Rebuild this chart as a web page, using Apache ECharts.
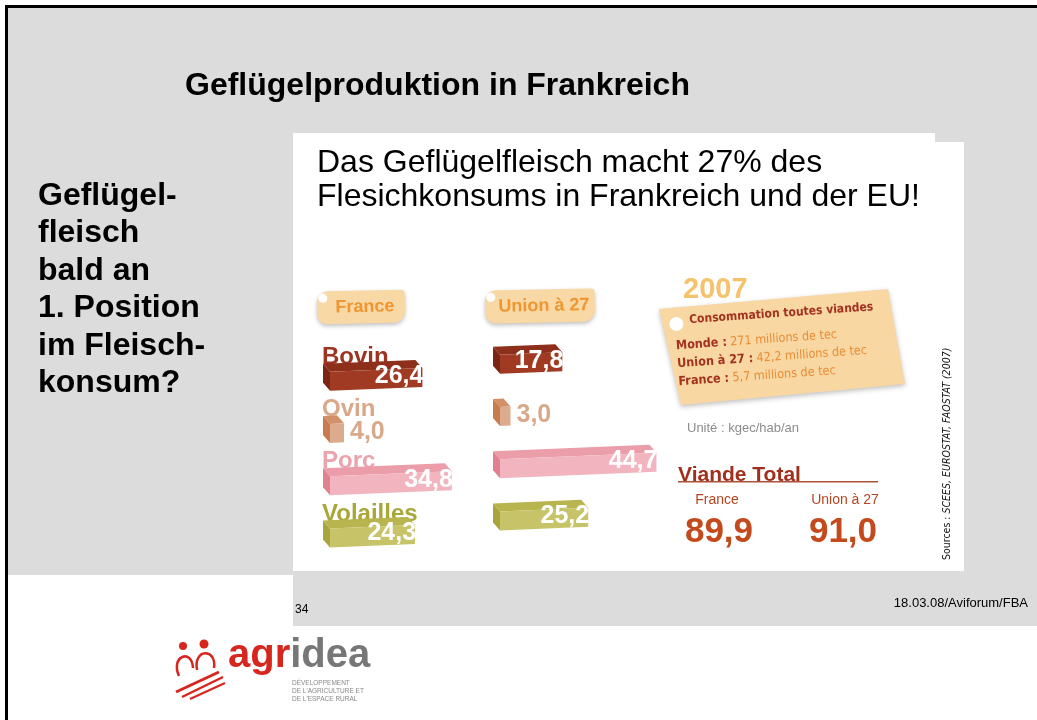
<!DOCTYPE html>
<html>
<head>
<meta charset="utf-8">
<script src="https://cdn.jsdelivr.net/npm/echarts@6/dist/echarts.min.js"></script>
<style>
  html, body { margin: 0; padding: 0; background: #fff; }
  #chart { width: 1037px; height: 720px; }
</style>
</head>
<body>
<div id="chart"></div>
<script>
// data
const categories = ["Bovin", "Ovin", "Porc", "Volailles"];
const franceValues = [26.4, 4.0, 34.8, 24.3];
const euValues = [17.8, 3.0, 44.7, 25.2];
const groupNames = ["France", "Union à 27"];
const totalValues = [89.9, 91.0];
const worldLabels = ["Monde", "Union à 27", "France"];
const worldValues = ["271", "42,2", "5,7"];
const leftLines = ["Geflügel-", "fleisch", "bald an", "1. Position", "im Fleisch-", "konsum?"];

const ARIAL = "'Liberation Sans', Arial, sans-serif";
const NARROW = "'DejaVu Sans Condensed', 'Liberation Sans', sans-serif";

const boxColors = [
  { front: "#a13a22", side: "#7b2615", top: "#8e2f1b", text: "#9c3421" },
  { front: "#dcaa8c", side: "#c67c4f", top: "#d3916a", text: "#d9a88b" },
  { front: "#f2b5bf", side: "#e2808f", top: "#eb9daa", text: "#eba3ae" },
  { front: "#c6c368", side: "#a9a53b", top: "#b9b54e", text: "#a9a73a" },
];

const fmt = (v) => v.toFixed(1).replace(".", ",");

const makeRender = (showNames) => (params, api) => {
  const i = api.value(1);
  const v = api.value(0);
  const start = api.coord([0, i]);
  const end = api.coord([v, i]);
  const h = 19, dx = -7, dy = -8, tilt = 0.04;
  const x0 = start[0], x1 = end[0], y = start[1];
  const rise = (x1 - x0) * tilt;
  const tl = [x0, y - h / 2], tr = [x1, y - h / 2 - rise];
  const br = [x1, y + h / 2 - rise], bl = [x0, y + h / 2];
  const off = (p) => [p[0] + dx, p[1] + dy];
  const c = boxColors[i];
  const children = [];
  if (showNames) {
    children.push({
      type: "text", x: x0 - 8, y: y - 24,
      style: { text: categories[i], fill: c.text, font: `bold 24px ${ARIAL}`,
        align: "left", textAlign: "left", verticalAlign: "middle", textVerticalAlign: "middle" },
    });
  }
  children.push(
    { type: "polygon", shape: { points: [tl, tr, off(tr), off(tl)] }, style: { fill: c.top } },
    { type: "polygon", shape: { points: [tl, bl, off(bl), off(tl)] }, style: { fill: c.side } },
    { type: "polygon", shape: { points: [tl, tr, br, bl] }, style: { fill: c.front } }
  );
  const inside = x1 - x0 > 40;
  children.push({
    type: "text", x: inside ? x1 + 1 : x1 + 6, y: y - rise - 1,
    style: { text: fmt(v), fill: inside ? "#fff" : c.text, font: `bold 25px ${ARIAL}`,
      align: inside ? "right" : "left", textAlign: inside ? "right" : "left",
      verticalAlign: "middle", textVerticalAlign: "middle" },
  });
  return { type: "group", children };
};

const txt = (x, y, text, font, fill, align, extra) => Object.assign({
  type: "text", x, y, z: 3,
  style: { text, font, fill, align: align || "left", textAlign: align || "left",
    verticalAlign: "middle", textVerticalAlign: "middle" },
}, extra || {});

const tag = (cx, cy, w, h, label) => ({
  type: "group", x: cx, y: cy, rotation: 0.02, z: 3,
  children: [
    { type: "rect", z: 3, shape: { x: -w / 2, y: -h / 2, width: w, height: h, r: [12, 4, 12, 10] },
      style: { fill: "#f8d8a4", shadowBlur: 4, shadowColor: "rgba(0,0,0,0.25)", shadowOffsetY: 2 } },
    { type: "circle", z: 4, shape: { cx: -w / 2 + 6, cy: -h / 2 + 7, r: 4.5 }, style: { fill: "#fff" } },
    { type: "text", z: 4, x: 4, y: 0, style: { text: label, font: `bold 18px ${ARIAL}`, fill: "#ef9632",
      align: "center", textAlign: "center", verticalAlign: "middle", textVerticalAlign: "middle" } },
  ],
});

const red = "#d7261e";
const graphics = [
  // slide background and frame
  { type: "rect", z: 0, shape: { x: 7, y: 7, width: 1030, height: 568 }, style: { fill: "#dcdcdc" } },
  { type: "rect", z: 0, shape: { x: 293, y: 571, width: 744, height: 55 }, style: { fill: "#dcdcdc" } },
  { type: "rect", z: 0, shape: { x: 5, y: 5, width: 3, height: 715 }, style: { fill: "#000" } },
  { type: "rect", z: 0, shape: { x: 5, y: 5, width: 1032, height: 3 }, style: { fill: "#000" } },
  { type: "rect", z: 1, shape: { x: 293, y: 142, width: 671, height: 429 }, style: { fill: "#fff" } },
  { type: "rect", z: 1, shape: { x: 293, y: 133, width: 642, height: 10 }, style: { fill: "#fff" } },

  txt(185, 86, "Geflügelproduktion in Frankreich", `bold 32px ${ARIAL}`, "#000"),
  ...leftLines.map((l, i) => txt(38, 196 + i * 37.5, l, `bold 32px ${ARIAL}`, "#000")),
  txt(317, 163, "Das Geflügelfleisch macht 27% des", `32px ${ARIAL}`, "#000"),
  txt(317, 197, "Flesichkonsums in Frankreich und der EU!", `32px ${ARIAL}`, "#000"),
  txt(295, 610, "34", `12px ${ARIAL}`, "#000"),
  txt(1028, 603, "18.03.08/Aviforum/FBA", `13px ${ARIAL}`, "#000", "right"),

  tag(361, 307, 88, 33, groupNames[0]),
  tag(540, 306, 110, 33, groupNames[1]),

  // 2007 card
  txt(683, 290, "2007", `bold 29px ${ARIAL}`, "#f6c26b"),
  { type: "polygon", z: 3, shape: { points: [[659, 309], [888, 289], [905, 384], [681, 405]] },
    style: { fill: "#f8d7a3", shadowBlur: 5, shadowColor: "rgba(0,0,0,0.25)", shadowOffsetY: 2 } },
  {
    type: "group", x: 676, y: 346, rotation: 0.07, z: 4,
    children: [
      { type: "circle", z: 4, shape: { cx: 2, cy: -22, r: 7 }, style: { fill: "#fff" } },
      { type: "text", z: 4, x: 15, y: -25, style: { text: "Consommation toutes viandes", font: `bold 12px ${NARROW}`,
        fill: "#a3321f", verticalAlign: "middle", textVerticalAlign: "middle" } },
      ...worldLabels.map((l, i) => ({
        type: "text", z: 4, x: 0, y: i * 18,
        style: {
          text: `{b|${l} :} {v|${worldValues[i]} millions de tec}`,
          verticalAlign: "middle", textVerticalAlign: "middle",
          rich: {
            b: { font: `bold 12.5px ${NARROW}`, fill: "#a3321f", color: "#a3321f" },
            v: { font: `12.5px ${NARROW}`, fill: "#e88d35", color: "#e88d35" },
          },
        },
      })),
    ],
  },

  txt(687, 428, "Unité : kgec/hab/an", `13px ${ARIAL}`, "#8c8c8c"),
  txt(678, 475, "Viande Total", `bold 21px ${ARIAL}`, "#a02f1c"),
  { type: "rect", z: 3, shape: { x: 678, y: 481, width: 200, height: 1.5 }, style: { fill: "#b0503a" } },
  txt(717, 500, groupNames[0], `14px ${ARIAL}`, "#b5441f", "center"),
  txt(845, 500, groupNames[1], `14px ${ARIAL}`, "#b5441f", "center"),
  ...totalValues.map((v, i) => txt(i ? 843 : 719, 532, fmt(v), `bold 35px ${ARIAL}`, "#c44a1e", "center", {
    style: { text: fmt(v), font: `bold 35px ${ARIAL}`, fill: "#c44a1e", align: "center", textAlign: "center",
      verticalAlign: "middle", textVerticalAlign: "middle",
      textShadowColor: "#7a2a10", textShadowOffsetX: 1, textShadowOffsetY: 2, textShadowBlur: 0 },
  })),
  {
    type: "text", x: 947, y: 560, rotation: Math.PI / 2, z: 3,
    style: {
      text: "{n|Sources : }{i|SCEES, EUROSTAT, FAOSTAT (2007)}",
      verticalAlign: "middle", textVerticalAlign: "middle",
      rich: {
        n: { font: `10.5px ${NARROW}`, fill: "#111", color: "#111" },
        i: { font: `italic 10.5px ${NARROW}`, fill: "#111", color: "#111" },
      },
    },
  },

  // agridea logo
  { type: "circle", z: 3, shape: { cx: 183, cy: 646, r: 4 }, style: { fill: red } },
  { type: "circle", z: 3, shape: { cx: 204, cy: 644, r: 4.5 }, style: { fill: red } },
  { type: "bezierCurve", z: 3, shape: { x1: 179, y1: 676, cpx1: 170, cpy1: 656, cpx2: 192, cpy2: 648, x2: 193, y2: 668 },
    style: { stroke: red, lineWidth: 2.5, fill: null } },
  { type: "bezierCurve", z: 3, shape: { x1: 197, y1: 670, cpx1: 193, cpy1: 648, cpx2: 217, cpy2: 648, x2: 214, y2: 668 },
    style: { stroke: red, lineWidth: 2.5, fill: null } },
  { type: "line", z: 3, shape: { x1: 176, y1: 692, x2: 219, y2: 672 }, style: { stroke: red, lineWidth: 3 } },
  { type: "line", z: 3, shape: { x1: 182, y1: 697, x2: 223, y2: 677 }, style: { stroke: red, lineWidth: 2.5 } },
  { type: "line", z: 3, shape: { x1: 190, y1: 699, x2: 225, y2: 683 }, style: { stroke: red, lineWidth: 2 } },
  {
    type: "text", x: 228, y: 676, z: 3,
    style: {
      text: "{a|agr}{b|idea}", verticalAlign: "bottom", textVerticalAlign: "bottom",
      rich: {
        a: { font: `bold 40px ${ARIAL}`, fill: red, color: red },
        b: { font: `bold 40px ${ARIAL}`, fill: "#777", color: "#777" },
      },
    },
  },
  txt(292, 683, "DÉVELOPPEMENT", `6.5px ${ARIAL}`, "#888"),
  txt(292, 691, "DE L'AGRICULTURE ET", `6.5px ${ARIAL}`, "#888"),
  txt(292, 699, "DE L'ESPACE RURAL", `6.5px ${ARIAL}`, "#888"),
];

const chart = echarts.init(document.getElementById("chart"));
chart.setOption({
  backgroundColor: "#fff",
  animation: false,
  grid: [
    { left: 330, top: 355, width: 175, height: 209 },
    { left: 500, top: 338, width: 175, height: 209 },
  ],
  xAxis: [0, 1].map((i) => ({ type: "value", gridIndex: i, min: 0, max: 50, show: false })),
  yAxis: [0, 1].map((i) => ({ type: "category", gridIndex: i, data: categories, inverse: true, show: false })),
  graphic: graphics,
  series: [
    {
      type: "custom", name: groupNames[0], xAxisIndex: 0, yAxisIndex: 0, z: 5,
      renderItem: makeRender(true), encode: { x: 0, y: 1 },
      data: franceValues.map((v, i) => [v, i]),
    },
    {
      type: "custom", name: groupNames[1], xAxisIndex: 1, yAxisIndex: 1, z: 5,
      renderItem: makeRender(false), encode: { x: 0, y: 1 },
      data: euValues.map((v, i) => [v, i]),
    },
  ],
});
</script>
</body>
</html>
